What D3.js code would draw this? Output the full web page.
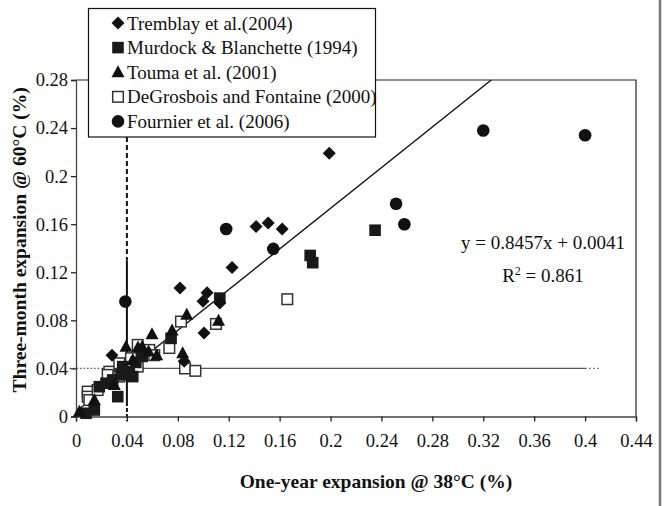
<!DOCTYPE html>
<meta charset="utf-8">

<!-- Load d3.js -->
<script src="https://d3js.org/d3.v7.min.js"></script>

<style>
    body { margin: 0; background: #fff; }
    text { font-family: "Liberation Serif", "Times New Roman", serif; fill: #111; }
</style>

<!-- Create a div where the graph will take place -->
<div id="my_dataviz"></div>

<script>

    // series, [one-year expansion, three-month expansion]
    var tremblay = [[0.199, 0.219], [0.1415, 0.158], [0.151, 0.161], [0.162, 0.156], [0.1226, 0.124],
        [0.0817, 0.107], [0.103, 0.103], [0.0998, 0.096], [0.113, 0.0945], [0.1006, 0.0695],
        [0.0283, 0.051], [0.085, 0.046]];
    var murdock = [[0.235, 0.155], [0.184, 0.134], [0.186, 0.128], [0.113, 0.0985], [0.0747, 0.065],
        [0.0079, 0.0027], [0.0144, 0.0054], [0.0328, 0.0165], [0.0183, 0.0248], [0.0236, 0.0277],
        [0.0288, 0.0304], [0.0354, 0.0346], [0.0419, 0.0373], [0.0446, 0.0332], [0.0367, 0.0415],
        [0.047, 0.045], [0.052, 0.05]];
    var touma = [[0.087, 0.0846], [0.112, 0.0796], [0.0597, 0.0685], [0.0755, 0.0715], [0.0393, 0.058],
        [0.052, 0.058], [0.0634, 0.051], [0.0838, 0.0526], [0.0026, 0.004], [0.0144, 0.0137],
        [0.0301, 0.0262], [0.0446, 0.047], [0.0487, 0.0575], [0.057, 0.054]];
    var degrosbois = [[0.0825, 0.079], [0.11, 0.077], [0.166, 0.0976], [0.0733, 0.057], [0.0485, 0.0596],
        [0.0576, 0.0554], [0.0615, 0.051], [0.0857, 0.040], [0.0938, 0.038], [0.0092, 0.0207],
        [0.0092, 0.0165], [0.0105, 0.0137], [0.017, 0.022], [0.0262, 0.0373], [0.0249, 0.0346],
        [0.034, 0.0332], [0.034, 0.0443], [0.0432, 0.0485], [0.0485, 0.0415]];
    var fournier = [[0.0388, 0.0957], [0.118, 0.156], [0.155, 0.1395], [0.2515, 0.177], [0.258, 0.160],
        [0.32, 0.238], [0.40, 0.234]];

    var legendLabels = ["Tremblay et al.(2004)", "Murdock & Blanchette (1994)", "Touma et al. (2001)",
        "DeGrosbois and Fontaine (2000)", "Fournier et al. (2006)"];
    var xTicks = [0, 0.04, 0.08, 0.12, 0.16, 0.2, 0.24, 0.28, 0.32, 0.36, 0.4, 0.44];
    var yTicks = [0, 0.04, 0.08, 0.12, 0.16, 0.2, 0.24, 0.28];

    // trend line y = 0.8457x + 0.0041
    var slope = 0.8457, intercept = 0.0041;

    // set the dimensions and margins of the graph
    var W = 671, H = 506;
    var margin = { top: 80, right: 35, bottom: 89.5, left: 76 },
        width = W - margin.left - margin.right,
        height = H - margin.top - margin.bottom;

    var svgRoot = d3.select("#my_dataviz")
        .append("svg")
        .attr("width", W)
        .attr("height", H);

    // the scan's right edge
    svgRoot.append("line")
        .attr("x1", 660).attr("x2", 660).attr("y1", 0).attr("y2", H)
        .attr("stroke", "#777").attr("stroke-width", 2.5);

    var svg = svgRoot.append("g")
        .attr("transform", "translate(" + margin.left + "," + margin.top + ")");

    var x = d3.scaleLinear().domain([0, 0.44]).range([0, width]);
    var y = d3.scaleLinear().domain([0, 0.28]).range([height, 0]);

    // frame on top and right
    svg.append("path")
        .attr("d", "M0," + y(0.28) + "H" + x(0.44) + "V" + y(0))
        .attr("fill", "none").attr("stroke", "#222").attr("stroke-width", 1.2);

    // reference lines at 0.04
    var hl = svg.append("g").attr("stroke", "#555").attr("stroke-width", 1.2);
    hl.append("line").attr("x1", x(-0.005)).attr("x2", x(0.02)).attr("y1", y(0.04)).attr("y2", y(0.04))
        .attr("stroke-dasharray", "1.5,2");
    hl.append("line").attr("x1", x(0.02)).attr("x2", x(0.4)).attr("y1", y(0.04)).attr("y2", y(0.04));
    hl.append("line").attr("x1", x(0.4)).attr("x2", x(0.412)).attr("y1", y(0.04)).attr("y2", y(0.04))
        .attr("stroke-dasharray", "1.5,2.5");

    var vl = svg.append("g").attr("stroke", "#111").attr("stroke-width", 2);
    vl.append("line").attr("x1", x(0.04)).attr("x2", x(0.04)).attr("y1", y(0.2325)).attr("y2", y(0.13))
        .attr("stroke-dasharray", "5,3");
    vl.append("line").attr("x1", x(0.04)).attr("x2", x(0.04)).attr("y1", y(0.13)).attr("y2", y(0.012));
    vl.append("line").attr("x1", x(0.04)).attr("x2", x(0.04)).attr("y1", y(0.012)).attr("y2", y(-0.004))
        .attr("stroke-dasharray", "4,2");

    // Add X axis
    var xAxis = svg.append("g")
        .attr("transform", "translate(0," + height + ")")
        .call(d3.axisBottom(x).tickValues(xTicks).tickSize(5).tickPadding(12).tickFormat(d3.format("~g")));
    // Add Y axis
    var yAxis = svg.append("g")
        .call(d3.axisLeft(y).tickValues(yTicks).tickSize(5).tickPadding(3).tickFormat(d3.format("~g")));

    [xAxis, yAxis].forEach(function (a) {
        a.select(".domain").attr("stroke", "#444").attr("stroke-width", 1.3);
        a.selectAll(".tick line").attr("stroke", "#222").attr("stroke-width", 1.3);
        a.selectAll(".tick text")
            .attr("font-size", 18.5)
            .attr("fill", "#111");
    });

    // axis titles
    svg.append("text")
        .attr("x", width / 2 + 20).attr("y", height + 71)
        .attr("text-anchor", "middle")
        .attr("font-weight", "bold").attr("font-size", 19.5)
        .text("One-year expansion @ 38\u00B0C (%)");
    svg.append("text")
        .attr("transform", "translate(" + (-50) + "," + (y(0.147)) + ") rotate(-90)")
        .attr("text-anchor", "middle")
        .attr("font-weight", "bold").attr("font-size", 19.5)
        .text("Three-month expansion @ 60\u00B0C (%)");

    // regression line
    svg.append("line")
        .attr("x1", x(0)).attr("y1", y(intercept))
        .attr("x2", x((0.28 - intercept) / slope)).attr("y2", y(0.28))
        .attr("stroke", "#111").attr("stroke-width", 1.4);

    // marker shapes
    function marker(sel, shape) {
        if (shape === "diamond") {
            sel.append("path").attr("d", "M0,-6.5L6.5,0L0,6.5L-6.5,0Z").attr("fill", "#111");
        } else if (shape === "square") {
            sel.append("rect").attr("x", -5.8).attr("y", -5.8).attr("width", 11.6).attr("height", 11.6)
                .attr("fill", "#1a1a1a");
        } else if (shape === "triangle") {
            sel.append("path").attr("d", "M0,-7L6.5,5L-6.5,5Z").attr("fill", "#111");
        } else if (shape === "open") {
            sel.append("rect").attr("x", -5.3).attr("y", -5.3).attr("width", 10.6).attr("height", 10.6)
                .attr("fill", "#fff").attr("stroke", "#333").attr("stroke-width", 1.5);
        } else {
            sel.append("circle").attr("r", 6.3).attr("fill", "#111");
        }
    }

    var series = [
        { data: degrosbois, shape: "open" },
        { data: murdock, shape: "square" },
        { data: touma, shape: "triangle" },
        { data: tremblay, shape: "diamond" },
        { data: fournier, shape: "circle" }
    ];

    series.forEach(function (s) {
        svg.append("g").selectAll("g")
            .data(s.data)
            .enter().append("g")
            .attr("transform", function (d) { return "translate(" + x(d[0]) + "," + y(d[1]) + ")"; })
            .each(function () { marker(d3.select(this), s.shape); });
    });

    // equation
    svg.append("text")
        .attr("x", 467).attr("y", 169)
        .attr("text-anchor", "middle").attr("font-size", 19)
        .text("y = 0.8457x + 0.0041");
    var r2 = svg.append("text")
        .attr("x", 467).attr("y", 202)
        .attr("text-anchor", "middle").attr("font-size", 19);
    r2.append("tspan").text("R");
    r2.append("tspan").attr("font-size", 12).attr("dy", -7).text("2");
    r2.append("tspan").attr("dy", 7).text(" = 0.861");

    // legend
    var shapes = ["diamond", "square", "triangle", "open", "circle"];
    var legend = svgRoot.append("g");
    legend.append("rect")
        .attr("x", 88.5).attr("y", 8.5).attr("width", 287).attr("height", 128.5)
        .attr("fill", "#fff").attr("stroke", "#111").attr("stroke-width", 1.2);
    legendLabels.forEach(function (lab, i) {
        var row = legend.append("g").attr("transform", "translate(118," + (23 + i * 24.6) + ")");
        marker(row, shapes[i]);
        row.append("text").attr("x", 9).attr("y", 6.5).attr("font-size", 19).text(lab);
    });

</script>
